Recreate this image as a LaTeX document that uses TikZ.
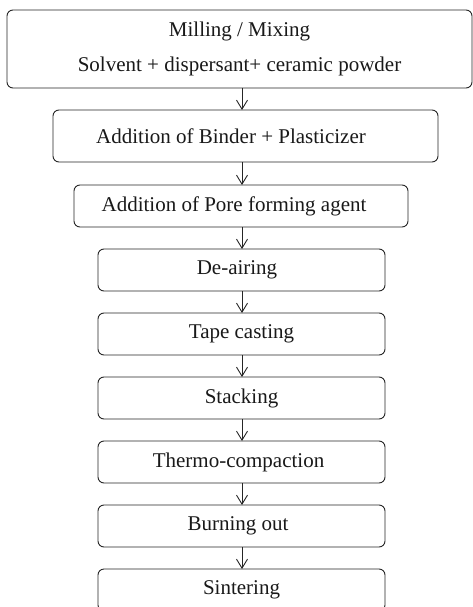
\documentclass[tikz,border=0pt]{standalone}
\usepackage{fontspec}
\setmainfont{Liberation Serif}
\usetikzlibrary{positioning,arrows.meta}
\tikzset{
  stepbox/.style={draw=black!85,line width=0.9pt,rounded corners=6pt,minimum height=42pt,
    inner sep=1pt,outer sep=0pt,font=\fontsize{21}{35}\selectfont,text=black!90},
  narrowbox/.style={stepbox,minimum width=287pt},
  flow/.style={draw=black!85,line width=0.9pt,-{Straight Barb[length=9pt,width=11pt,line width=0.9pt]}},
}

\begin{document}
\begin{tikzpicture}[x=1pt,y=-1pt,node distance=22pt]

\path[use as bounding box,clip] (0,0) rectangle (473,607);
\fill[white] (0,0) rectangle (473,607);

\node[stepbox,minimum width=465pt,minimum height=78pt,align=center] (mix) at (239.5,49)
  {Milling / Mixing\\Solvent + dispersant+ ceramic powder};
\node[stepbox,minimum width=385pt,minimum height=52pt,below=22pt of mix,xshift=6pt] (binder)
  {Addition of Binder + Plasticizer\hspace*{29pt}};
\node[stepbox,minimum width=334pt,below=23pt of binder,xshift=-4.5pt] (pore)
  {Addition of Pore forming agent\hspace*{14pt}};
\node[narrowbox,below=of pore,xshift=0.5pt] (deair) {De-airing\hspace*{9pt}};
\node[narrowbox,below=of deair] (tape) {Tape casting};
\node[narrowbox,below=of tape] (stack) {Stacking};
\node[narrowbox,below=of stack] (thermo) {Thermo-compaction\hspace*{6pt}};
\node[narrowbox,below=of thermo] (burn) {Burning out\hspace*{7pt}};
\node[narrowbox,below=of burn] (sinter) {Sintering};

\coordinate (axis) at (242,0);
\foreach \from/\to in {mix/binder,binder/pore,pore/deair,deair/tape,tape/stack,
  stack/thermo,thermo/burn,burn/sinter}
  \draw[flow] (\from.south -| axis) -- (\to.north -| axis);

\end{tikzpicture}
\end{document}
